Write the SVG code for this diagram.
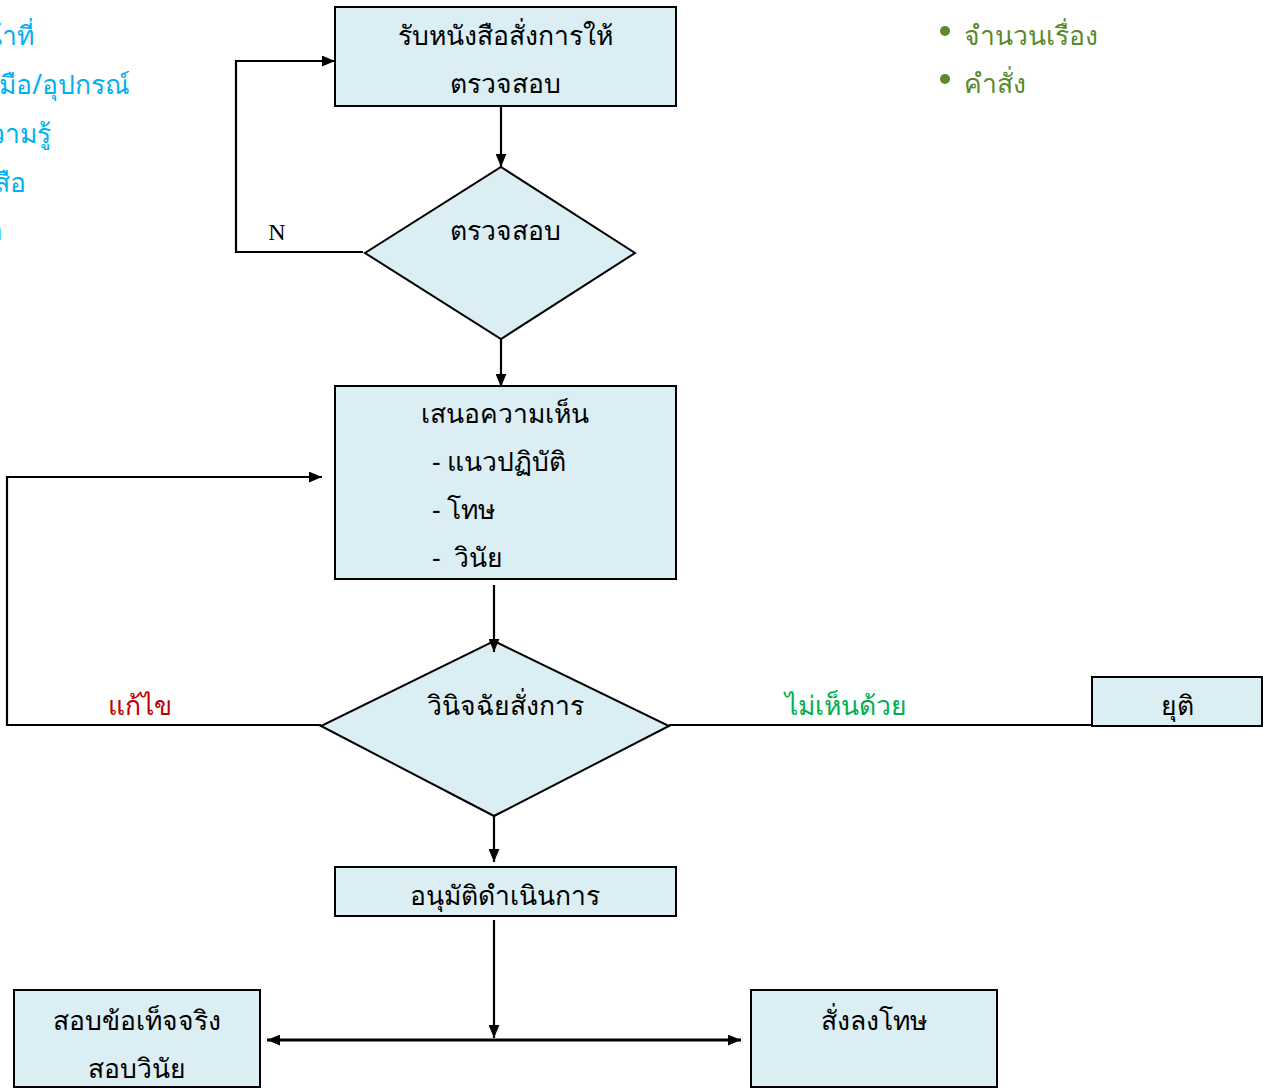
<svg xmlns="http://www.w3.org/2000/svg" width="1263" height="1088" viewBox="0 0 1263 1088">
<defs>
<marker id="ah" viewBox="0 0 12 10" refX="12" refY="5" markerWidth="13" markerHeight="11" orient="auto-start-reverse" markerUnits="userSpaceOnUse">
<path d="M0,0 L12,5 L0,10 z" fill="#000"/>
</marker>
<style>
.box{fill:#DAEEF3;stroke:#000;stroke-width:2}
.t{font-family:"Noto Sans","DejaVu Sans",sans-serif;font-size:26.5px;fill:#000}
.c{text-anchor:middle}
.ln{fill:none;stroke:#000;stroke-width:2.2}
.cy{font-family:"Noto Sans","DejaVu Sans",sans-serif;font-size:26.5px;fill:#00B0F0;text-anchor:end}
.gr{font-family:"Noto Sans","DejaVu Sans",sans-serif;font-size:26.5px;fill:#5A8A2A}
</style>
</defs>
<rect width="1263" height="1088" fill="#fff"/>
<g id="side-left">
<text class="cy" x="34" y="45">หน้าที่</text>
<text class="cy" x="130" y="94">เครื่องมือ/อุปกรณ์</text>
<text class="cy" x="51" y="143">ความรู้</text>
<text class="cy" x="26" y="192">หนังสือ</text>
<text class="cy" x="3" y="240">เวลา</text>
</g>
<g id="side-right">
<circle cx="945" cy="31" r="5" fill="#5A8A2A"/>
<text class="gr" x="964" y="45">จำนวนเรื่อง</text>
<circle cx="945" cy="79" r="5" fill="#5A8A2A"/>
<text class="gr" x="964" y="93">คำสั่ง</text>
</g>
<g id="n1">
<rect class="box" x="335" y="7" width="341" height="99"/>
<text class="t c" x="505" y="45">รับหนังสือสั่งการให้</text>
<text class="t c" x="505" y="93">ตรวจสอบ</text>
</g>
<g id="d1">
<polygon class="box" points="501,167 635,253 501,339 365,253"/>
<text class="t c" x="505" y="240">ตรวจสอบ</text>
</g>
<g id="n2">
<rect class="box" x="335" y="386" width="341" height="193"/>
<text class="t c" x="505" y="423">เสนอความเห็น</text>
<text class="t" x="432" y="471">- แนวปฏิบัติ</text>
<text class="t" x="432" y="519">- โทษ</text>
<text class="t" x="432" y="567" xml:space="preserve">-  วินัย</text>
</g>
<g id="d2">
<polygon class="box" points="494,641 669,726 494,816 321,726"/>
<text class="t c" x="505" y="715">วินิจฉัยสั่งการ</text>
</g>
<g id="n3">
<rect class="box" x="1092" y="677" width="170" height="49"/>
<text class="t c" x="1177" y="715">ยุติ</text>
</g>
<g id="n4">
<rect class="box" x="335" y="867" width="341" height="49"/>
<text class="t c" x="505" y="905">อนุมัติดำเนินการ</text>
</g>
<g id="n5">
<rect class="box" x="14" y="990" width="246" height="97"/>
<text class="t c" x="137" y="1030">สอบข้อเท็จจริง</text>
<text class="t c" x="137" y="1078">สอบวินัย</text>
</g>
<g id="n6">
<rect class="box" x="751" y="990" width="246" height="97"/>
<text class="t c" x="874" y="1030">สั่งลงโทษ</text>
</g>
<g id="connectors">
<line class="ln" x1="501" y1="106" x2="501" y2="167" marker-end="url(#ah)"/>
<polyline class="ln" points="363,252 236,252 236,61 335,61" marker-end="url(#ah)"/>
<line class="ln" x1="501" y1="339" x2="501" y2="387" marker-end="url(#ah)"/>
<line class="ln" x1="494" y1="585" x2="494" y2="652" marker-end="url(#ah)"/>
<polyline class="ln" points="321,725 7,725 7,477 322,477" marker-end="url(#ah)"/>
<line class="ln" x1="669" y1="725" x2="1092" y2="725"/>
<line class="ln" x1="494" y1="816" x2="494" y2="862" marker-end="url(#ah)"/>
<line class="ln" x1="494" y1="920" x2="494" y2="1038" marker-end="url(#ah)"/>
<line class="ln" x1="267" y1="1040" x2="741" y2="1040" style="stroke-width:3.2" marker-start="url(#ah)" marker-end="url(#ah)"/>
<text x="277" y="240" font-family="Liberation Serif,serif" font-size="24" text-anchor="middle">N</text>
<text x="140" y="715" class="t c" style="fill:#C00000">แก้ไข</text>
<text x="846" y="715" class="t c" style="fill:#00B050">ไม่เห็นด้วย</text>
</g>
</svg>
